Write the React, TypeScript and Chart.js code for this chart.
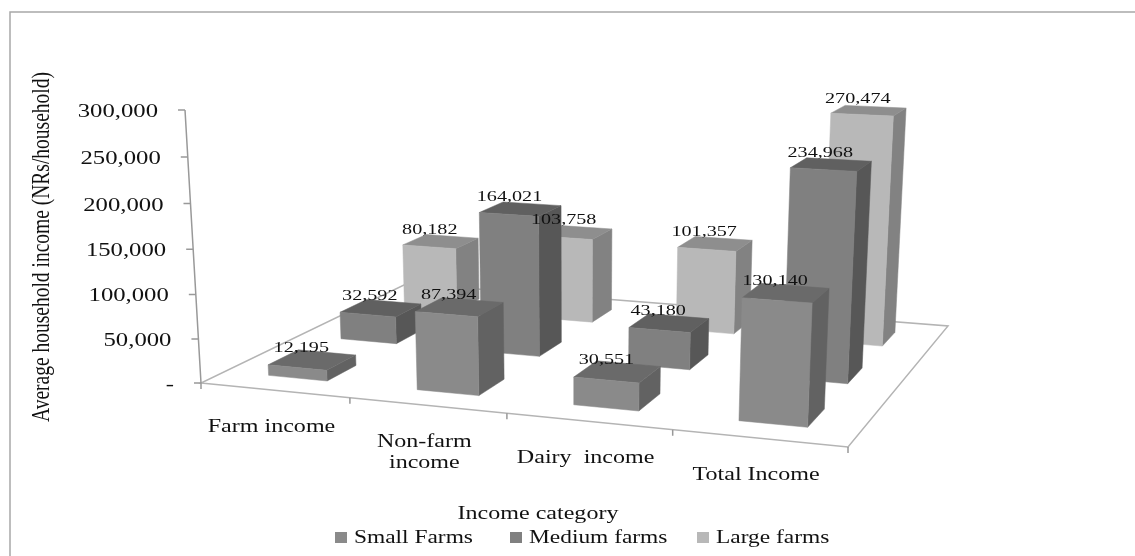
import React, { useEffect, useRef } from "react";
import { Chart, BarController, BarElement, CategoryScale, LinearScale } from "chart.js";

const categories = ["Farm income", ["Non-farm", "income"], "Dairy  income", "Total Income"];
const seriesNames = ["Small Farms", "Medium farms", "Large farms"];
const smallFarms = [12195, 87394, 30551, 130140];
const mediumFarms = [32592, 164021, 43180, 234968];
const largeFarms = [80182, 103758, 101357, 270474];

const faceColors = [
  { front: "#8a8a8a", top: "#6a6a6a", side: "#626262" },
  { front: "#808080", top: "#606060", side: "#575757" },
  { front: "#b8b8b8", top: "#8e8e8e", side: "#828282" },
];

const serif = '"Liberation Serif"';
const STRETCH = 1.3;

// Floor corners of the 3D box and the vanishing point of its vertical edges.
const FLOOR = { fl: [201, 383], fr: [848, 447], br: [948, 326], bl: [407, 283.6] };
const VERTICAL_VP = [575, 6770];
const VERTICAL_GAIN = 0.041;
const BAR_WIDTH = 0.4;
const BAR_DEPTH = 0.4;

function floorHomography() {
  const [x0, y0] = FLOOR.fl;
  const [x1, y1] = FLOOR.fr;
  const [x2, y2] = FLOOR.br;
  const [x3, y3] = FLOOR.bl;
  const dx1 = x1 - x2, dx2 = x3 - x2, sx = x0 - x1 + x2 - x3;
  const dy1 = y1 - y2, dy2 = y3 - y2, sy = y0 - y1 + y2 - y3;
  const det = dx1 * dy2 - dx2 * dy1;
  const g = (sx * dy2 - dx2 * sy) / det;
  const h = (dx1 * sy - sx * dy1) / det;
  return { a: x1 - x0 + g * x1, b: x3 - x0 + h * x3, c: x0, d: y1 - y0 + g * y1, e: y3 - y0 + h * y3, f: y0, g, h };
}
const H = floorHomography();

// u runs along the categories, v runs into the depth, z is the share of the value axis.
function project(u: number, v: number, z: number): [number, number] {
  const w = H.g * u + H.h * v + 1 - VERTICAL_GAIN * z;
  const x = H.a * u + H.b * v + H.c - VERTICAL_GAIN * z * VERTICAL_VP[0];
  const y = H.d * u + H.e * v + H.f - VERTICAL_GAIN * z * VERTICAL_VP[1];
  return [x / w, y / w];
}

function categoryShare(chart: any, index: number) {
  const s = chart.scales.x;
  return (s.getPixelForValue(index) - s.left) / s.width;
}
function valueShare(chart: any, value: number) {
  const s = chart.scales.y;
  return (s.bottom - s.getPixelForValue(value)) / s.height;
}
function depthShare(chart: any, datasetIndex: number) {
  return (datasetIndex + 0.5) / chart.data.datasets.length;
}

function fillFace(ctx: CanvasRenderingContext2D, pts: [number, number][], color: string) {
  ctx.beginPath();
  pts.forEach((p, i) => (i ? ctx.lineTo(p[0], p[1]) : ctx.moveTo(p[0], p[1])));
  ctx.closePath();
  ctx.fillStyle = color;
  ctx.strokeStyle = color;
  ctx.lineWidth = 0.5;
  ctx.fill();
  ctx.stroke();
}

// Bar controller that paints each value as a box standing on the floor.
class Box3DController extends BarController {
  static id = "box3d";
  static defaults = BarController.defaults;
  static overrides = BarController.overrides;
  draw() {
    const chart: any = this.chart;
    const ctx = chart.ctx;
    const ds = this.index;
    const colors = faceColors[ds];
    const du = BAR_WIDTH / chart.data.labels.length / 2;
    const dv = BAR_DEPTH / chart.data.datasets.length / 2;
    const values = chart.data.datasets[ds].data as number[];
    values.forEach((value, i) => {
      const u = categoryShare(chart, i);
      const v = depthShare(chart, ds);
      const z = valueShare(chart, value);
      const p = (a: number, b: number, c: number) => project(u + a * du, v + b * dv, c);
      fillFace(ctx, [p(1, -1, 0), p(1, 1, 0), p(1, 1, z), p(1, -1, z)], colors.side);
      fillFace(ctx, [p(-1, -1, z), p(1, -1, z), p(1, 1, z), p(-1, 1, z)], colors.top);
      fillFace(ctx, [p(-1, -1, 0), p(1, -1, 0), p(1, -1, z), p(-1, -1, z)], colors.front);
    });
  }
}

function wideText(ctx: CanvasRenderingContext2D, text: string, x: number, y: number, size: number, align: CanvasTextAlign = "center") {
  ctx.save();
  ctx.translate(x, y);
  ctx.scale(STRETCH, 1);
  ctx.font = `${size}px ${serif}`;
  ctx.fillStyle = "#111";
  ctx.textAlign = align;
  ctx.textBaseline = "middle";
  ctx.fillText(text, 0, 0);
  ctx.restore();
}

// Frame, floor outline, axes with their tick marks.
const boxPlugin = {
  id: "boxFrame",
  beforeDatasetsDraw(chart: any) {
    const ctx = chart.ctx;
    const y = chart.scales.y;
    const x = chart.scales.x;
    ctx.save();
    ctx.strokeStyle = "#a8a8a8";
    ctx.lineWidth = 1.5;
    ctx.beginPath();
    ctx.moveTo(10, 556);
    ctx.lineTo(10, 12);
    ctx.lineTo(1135, 12);
    ctx.stroke();

    ctx.strokeStyle = "#b4b4b4";
    ctx.lineWidth = 1.5;
    ctx.beginPath();
    [FLOOR.fl, FLOOR.fr, FLOOR.br, FLOOR.bl].forEach((c, i) => (i ? ctx.lineTo(c[0], c[1]) : ctx.moveTo(c[0], c[1])));
    ctx.closePath();
    ctx.stroke();

    ctx.strokeStyle = "#999";
    ctx.beginPath();
    const base = project(0, 0, 0);
    const apex = project(0, 0, 1);
    ctx.moveTo(base[0], base[1]);
    ctx.lineTo(apex[0], apex[1]);
    y.ticks.forEach((t: any) => {
      const p = project(0, 0, valueShare(chart, t.value));
      ctx.moveTo(p[0], p[1]);
      ctx.lineTo(p[0] - 7, p[1]);
    });
    for (let i = 0; i <= x.ticks.length; i++) {
      const p = project(i / x.ticks.length, 0, 0);
      ctx.moveTo(p[0], p[1]);
      ctx.lineTo(p[0], p[1] + 6);
    }
    ctx.stroke();
    ctx.restore();
  },
  afterDatasetsDraw(chart: any) {
    const ctx = chart.ctx;
    const y = chart.scales.y;

    // Value labels sit over the top face of every box.
    chart.data.datasets.forEach((set: any, ds: number) => {
      set.data.forEach((value: number, i: number) => {
        const p = project(categoryShare(chart, i), depthShare(chart, ds), valueShare(chart, value));
        wideText(ctx, value.toLocaleString("en-US"), p[0] - 11, p[1] - 12, 15.5);
      });
    });

    // Value axis labels follow the leaning axis.
    y.ticks.forEach((t: any) => {
      const p = project(0, 0, valueShare(chart, t.value));
      wideText(ctx, t.label, p[0] - 27, p[1] + 2, 19, "right");
    });

    // Category labels run below the front edge.
    chart.data.labels.forEach((label: any, i: number) => {
      const p = project(categoryShare(chart, i), 0, 0);
      const lines = Array.isArray(label) ? label : [label];
      lines.forEach((line: string, n: number) => wideText(ctx, line, p[0] - 3, p[1] + 37 + n * 21, 18.5));
    });

    wideText(ctx, "Income category", 538, 514, 18.5);

    ctx.save();
    ctx.translate(42, 247);
    ctx.scale(STRETCH, 1);
    ctx.rotate(-Math.PI / 2);
    ctx.font = `19.5px ${serif}`;
    ctx.fillStyle = "#111";
    ctx.textAlign = "center";
    ctx.textBaseline = "middle";
    ctx.fillText("Average household income (NRs/household)", 0, 0);
    ctx.restore();

    // Legend row.
    const starts = [335, 510, 697];
    chart.data.datasets.forEach((set: any, ds: number) => {
      ctx.fillStyle = faceColors[ds].front;
      ctx.fillRect(starts[ds], 532, 12, 11);
      wideText(ctx, set.label, starts[ds] + 19, 538, 18, "left");
    });
  },
};

Chart.register(Box3DController, BarElement, CategoryScale, LinearScale);

export default function App() {
  const ref = useRef<HTMLCanvasElement>(null);
  useEffect(() => {
    document.body.style.margin = "0";
    const chart = new Chart(ref.current!, {
      type: "box3d" as any,
      data: {
        labels: categories as any,
        datasets: [
          { label: seriesNames[0], data: smallFarms, backgroundColor: faceColors[0].front, clip: false },
          { label: seriesNames[1], data: mediumFarms, backgroundColor: faceColors[1].front, clip: false },
          { label: seriesNames[2], data: largeFarms, backgroundColor: faceColors[2].front, clip: false },
        ] as any,
      },
      options: {
        animation: false,
        responsive: false,
        layout: { padding: { left: 201, right: 287, top: 110, bottom: 173 } },
        plugins: { legend: { display: false }, tooltip: { enabled: false } },
        scales: {
          x: { display: false, type: "category" },
          y: {
            display: false,
            min: 0,
            max: 300000,
            ticks: {
              stepSize: 50000,
              callback: (v: any) => (v === 0 ? "-" : Number(v).toLocaleString("en-US")),
            },
          },
        },
      },
      plugins: [boxPlugin],
    });
    return () => chart.destroy();
  }, []);
  return <canvas ref={ref} width={1135} height={556} style={{ display: "block" }} />;
}
